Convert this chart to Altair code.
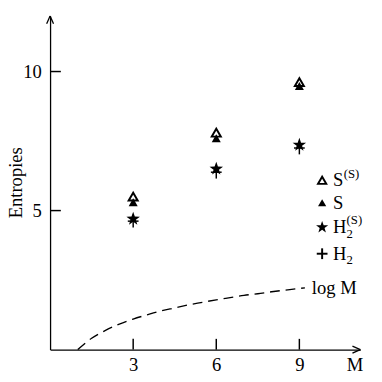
import altair as alt
import pandas as pd

# ---- data ----
M_vals = [3, 6, 9]
S_S = [5.5, 7.8, 9.62]      # S^(S)  open triangles
S = [5.3, 7.6, 9.48]        # S      filled triangles
H2_S = [4.7, 6.5, 7.36]     # H2^(S) stars
H2 = [4.62, 6.38, 7.25]     # H2     plus signs

logM_x = [1, 1.5, 2, 2.5, 3, 3.5, 4, 4.5, 5, 5.5, 6, 6.5, 7, 7.5, 8, 8.5, 9, 9.2]
logM_y = [0, 0.41, 0.69, 0.92, 1.10, 1.25, 1.39, 1.50, 1.61, 1.70, 1.79, 1.87, 1.95, 2.01, 2.08, 2.14, 2.20, 2.22]

x_ticks = [3, 6, 9]
y_ticks = [5, 10]
x_max = 11.2
y_max = 12.0

FONT = "Liberation Serif"
W, H = 317, 341
STAR = ("M0,-1L0.235,-0.324L0.951,-0.309L0.380,0.124L0.588,0.809L0,0.4"
        "L-0.588,0.809L-0.380,0.124L-0.951,-0.309L-0.235,-0.324Z")

xs = alt.Scale(domain=[0, x_max], nice=False, zero=True)
ys = alt.Scale(domain=[0, y_max], nice=False, zero=True)

x_axis = alt.Axis(values=x_ticks, tickSize=0, labelPadding=6, labelFont=FONT,
                  labelFontSize=19, labelColor="black", domainColor="black",
                  domainWidth=1.3, grid=False, title="M", titleFont=FONT,
                  titleFontSize=19, titleFontWeight="normal", titleColor="black",
                  titleX=311, titleY=15, titleBaseline="middle", titleAlign="center")
y_axis = alt.Axis(values=y_ticks, tickSize=0, labelPadding=9, labelFont=FONT,
                  labelFontSize=19, labelColor="black", domainColor="black",
                  domainWidth=1.3, grid=False, title="Entropies", titleFont=FONT,
                  titleFontSize=19, titleFontWeight="normal", titleColor="black",
                  titleX=-35, titleY=170, titleAngle=270, titleBaseline="middle",
                  titleAlign="center")

pts = pd.DataFrame({"M": M_vals, "SS": S_S, "S": S, "H2S": H2_S, "H2": H2})
curve = pd.DataFrame({"M": logM_x, "v": logM_y})

curve_layer = alt.Chart(curve).mark_line(
    color="black", strokeWidth=1.4, strokeDash=[10, 6], interpolate="monotone"
).encode(
    x=alt.X("M:Q", scale=xs, axis=x_axis),
    y=alt.Y("v:Q", scale=ys, axis=y_axis),
)

def pos(col):
    return dict(x=alt.X("M:Q", scale=xs), y=alt.Y(f"{col}:Q", scale=ys))

def series(col, shape, filled, size, sw=1.5):
    return alt.Chart(pts).mark_point(shape=shape, filled=filled, size=size, color="black",
                                     strokeWidth=sw, opacity=1).encode(**pos(col))

# plus signs for H2 built from two ticks
plus_h = alt.Chart(pts).mark_tick(orient="horizontal", size=11, thickness=1.5,
                                  color="black", opacity=1).encode(**pos("H2"))
plus_v = alt.Chart(pts).mark_tick(orient="vertical", size=13, thickness=1.5,
                                  color="black", opacity=1).encode(**pos("H2"))

layers = [
    curve_layer,
    plus_h, plus_v,
    series("H2S", STAR, True, 210),
    series("S", "triangle-up", True, 85),
    series("SS", "triangle-up", False, 85, 2),
]

# inward ticks
xt = alt.Chart(pd.DataFrame({"t": x_ticks})).mark_rule(color="black", strokeWidth=1.5).encode(
    x=alt.X("t:Q", scale=xs), y=alt.value(H), y2=alt.value(H - 11))
yt = alt.Chart(pd.DataFrame({"t": y_ticks})).mark_rule(color="black", strokeWidth=1.5).encode(
    y=alt.Y("t:Q", scale=ys), x=alt.value(0), x2=alt.value(11))
layers += [xt, yt]

# arrow heads at axis ends (two short strokes each)
def stroke(px, py, dx, dy):
    return alt.Chart(pd.DataFrame({"M": [px], "v": [py]})).mark_rule(
        color="black", strokeWidth=1.3, x2Offset=dx, y2Offset=dy).encode(
        x=alt.X("M:Q", scale=xs), y=alt.Y("v:Q", scale=ys),
        x2=alt.X2("M:Q"), y2=alt.Y2("v:Q"))

layers += [
    stroke(0, y_max, -3.5, 8), stroke(0, y_max, 3.5, 8),
    stroke(x_max, 0, -8, -3.5), stroke(x_max, 0, -8, 3.5),
]

# log M label at curve end
lbl = alt.Chart(pd.DataFrame({"M": [9.45], "v": [2.2], "t": ["log M"]})).mark_text(
    align="left", baseline="middle", font=FONT, fontSize=19, color="black").encode(
    x=alt.X("M:Q", scale=xs), y=alt.Y("v:Q", scale=ys), text="t:N")
layers.append(lbl)

# manual legend
one = pd.DataFrame({"a": [0]})

def sym(shape, filled, size, yy, sw=1.5):
    return alt.Chart(one).mark_point(shape=shape, filled=filled, size=size, color="black",
                                     strokeWidth=sw, opacity=1).encode(
        x=alt.value(278), y=alt.value(yy))

def tick(orient, yy, sz):
    return alt.Chart(one).mark_tick(orient=orient, size=sz, thickness=2, color="black",
                                    opacity=1).encode(x=alt.value(278), y=alt.value(yy))

def txt(t, xx, yy, fs):
    return alt.Chart(one).mark_text(text=t, align="left", baseline="middle", font=FONT,
                                    fontSize=fs, color="black").encode(
        x=alt.value(xx), y=alt.value(yy))

rows = [168, 191, 216, 243]
layers += [
    sym("triangle-up", False, 70, rows[0], 2),
    sym("triangle-up", True, 70, rows[1]),
    sym(STAR, True, 170, rows[2]),
    tick("horizontal", rows[3], 11), tick("vertical", rows[3], 11),
    txt("S", 289, rows[0], 19), txt("(S)", 300, rows[0] - 6, 13),
    txt("S", 289, rows[1], 19),
    txt("H", 289, rows[2], 19), txt("(S)", 303, rows[2] - 7, 13), txt("2", 303, rows[2] + 7, 13),
    txt("H", 289, rows[3], 19), txt("2", 303, rows[3] + 7, 13),
]

chart = alt.layer(*layers).properties(
    width=W, height=H,
    background="white",
    autosize=alt.AutoSizeParams(type="none"),
    padding={"left": 43, "top": 4, "right": 14, "bottom": 29},
).configure_view(stroke=None)

chart.save("out.html", embed_options={"renderer": "svg", "actions": False})
